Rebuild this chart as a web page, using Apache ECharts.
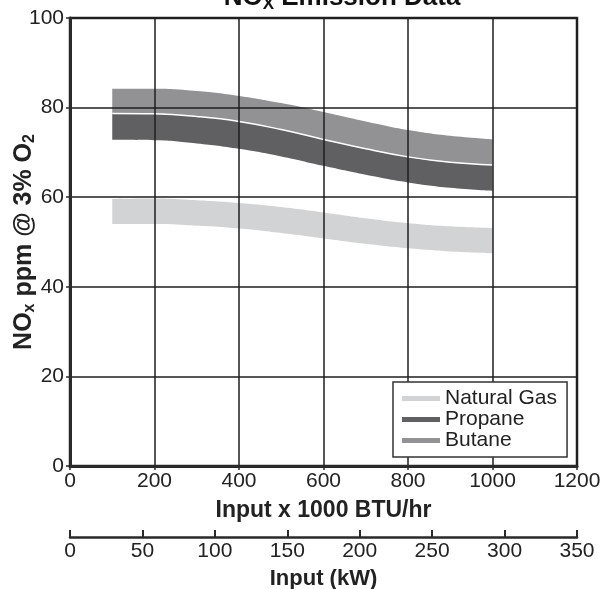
<!DOCTYPE html>
<html>
<head>
<meta charset="utf-8">
<script src="https://cdn.jsdelivr.net/npm/echarts@6/dist/echarts.min.js"></script>
<style>
html,body{margin:0;padding:0;background:#fff;}
#chart{width:602px;height:589px;}
</style>
</head>
<body>
<div id="chart"></div>
<script>
// Input x 1000 BTU/hr
const inputBTU = [100, 200, 300, 400, 500, 600, 700, 800, 900, 1000];
// NOx ppm band edges
const butaneTop    = [84.2, 84.2, 83.7, 82.6, 81.0, 79.0, 76.9, 75.0, 73.7, 72.9];
const butaneBottom = [78.7, 78.6, 78.0, 76.9, 75.1, 72.9, 70.8, 69.0, 67.8, 67.2];
const propaneTop   = [78.7, 78.6, 78.0, 76.9, 75.1, 72.9, 70.8, 69.0, 67.8, 67.2];
const propaneBottom= [72.8, 72.7, 72.0, 70.8, 69.1, 67.0, 65.0, 63.3, 62.1, 61.4];
const gasTop       = [59.6, 59.7, 59.3, 58.7, 57.8, 56.6, 55.3, 54.2, 53.5, 53.1];
const gasBottom    = [54.0, 54.0, 53.6, 53.0, 52.0, 50.8, 49.6, 48.6, 47.9, 47.5];
const yTicks = [0, 20, 40, 60, 80, 100];
const btuTicks = [0, 200, 400, 600, 800, 1000, 1200];
const kwTicks = [0, 50, 100, 150, 200, 250, 300, 350];
const legendNames = ['Natural Gas', 'Propane', 'Butane'];

const FONT = 'Liberation Sans, Arial, sans-serif';
const colors = { 'Natural Gas': '#d2d3d4', 'Propane': '#606062', 'Butane': '#929295' };

// rows are [value, input] so that the stacked dimension is the NOx value
function rows(arr) { return inputBTU.map((x, i) => [arr[i], x]); }
function widthRows(top, bottom) { return inputBTU.map((x, i) => [+(top[i] - bottom[i]).toFixed(2), x]); }

const SMOOTH = 0.45;
function band(name, top, bottom, lineColor, lineWidth, z) {
  return [
    {
      name: name + '-base', type: 'line', stack: name, data: rows(bottom),
      encode: { x: 1, y: 0 }, smooth: SMOOTH, symbol: 'none', silent: true, z: z,
      lineStyle: { opacity: 0, width: 0 }
    },
    {
      name: name, type: 'line', stack: name, data: widthRows(top, bottom),
      encode: { x: 1, y: 0 }, smooth: SMOOTH, symbol: 'none', silent: true, z: z,
      itemStyle: { color: colors[name] },
      lineStyle: { color: lineColor || colors[name], width: lineWidth || 0, opacity: lineWidth ? 1 : 0 },
      areaStyle: { color: colors[name], opacity: 1 }
    }
  ];
}

const chart = echarts.init(document.getElementById('chart'), null, { renderer: 'canvas' });
const option = {
  animation: false,
  textStyle: { fontFamily: FONT },
  grid: {
    left: 70, right: 25, top: 18, bottom: 123,
    outerBoundsMode: 'none', containLabel: false,
    show: true, borderColor: '#2a2a2a', borderWidth: 2.5, backgroundColor: 'transparent'
  },
  legend: {
    data: legendNames,
    orient: 'vertical',
    left: 393, top: 382,
    icon: 'rect', itemWidth: 38, itemHeight: 5, itemGap: 0,
    padding: [6, 10, 6, 9],
    borderColor: '#333', borderWidth: 1.5, backgroundColor: '#fff',
    textStyle: { fontSize: 21, color: '#222', fontFamily: FONT },
    selectedMode: false, z: 20
  },
  xAxis: [
    {
      type: 'value', min: btuTicks[0], max: btuTicks[btuTicks.length - 1], interval: 200,
      position: 'bottom', z: 10,
      name: 'Input x 1000 BTU/hr', nameLocation: 'middle', nameGap: 33,
      nameTextStyle: { fontSize: 23, fontWeight: 'bold', color: '#222', fontFamily: FONT },
      axisLine: { show: true, onZero: false, lineStyle: { color: '#2a2a2a', width: 3 } },
      axisTick: { show: true, length: 4, lineStyle: { color: '#2a2a2a', width: 1.5 } },
      axisLabel: { fontSize: 21, color: '#222', margin: 5, fontFamily: FONT, formatter: v => String(v) },
      splitLine: { show: true, lineStyle: { color: '#1e1e1e', width: 1.5 } }
    },
    {
      type: 'value', min: kwTicks[0], max: kwTicks[kwTicks.length - 1], interval: 50,
      position: 'bottom', offset: 71, z: 10,
      name: 'Input (kW)', nameLocation: 'middle', nameGap: 31,
      nameTextStyle: { fontSize: 22, fontWeight: 'bold', color: '#222', fontFamily: FONT },
      axisLine: { show: true, onZero: false, lineStyle: { color: '#2a2a2a', width: 2.5 } },
      axisTick: { show: true, inside: true, length: 7, lineStyle: { color: '#2a2a2a', width: 2 } },
      axisLabel: { fontSize: 21, color: '#222', margin: 4, fontFamily: FONT, formatter: v => String(v) },
      splitLine: { show: false }
    }
  ],
  yAxis: {
    type: 'value', min: yTicks[0], max: yTicks[yTicks.length - 1], interval: 20, z: 10,
    axisLine: { show: true, onZero: false, lineStyle: { color: '#2a2a2a', width: 3 } },
    axisTick: { show: true, length: 4, lineStyle: { color: '#2a2a2a', width: 1.5 } },
    axisLabel: { fontSize: 21, color: '#222', margin: 6, fontFamily: FONT },
    splitLine: { show: true, lineStyle: { color: '#1e1e1e', width: 1.5 } }
  },
  series: [].concat(
    band('Butane', butaneTop, butaneBottom, null, 0, 2),
    band('Propane', propaneTop, propaneBottom, '#ffffff', 1.5, 3),
    band('Natural Gas', gasTop, gasBottom, null, 0, 4)
  ),
  graphic: [
    {
      type: 'text', x: 342, y: 13, z: 30,
      style: {
        text: 'NO{sub|X} Emission Data',
        font: 'bold 26px ' + FONT, fill: '#111',
        align: 'center', verticalAlign: 'bottom',
        rich: { sub: { fontSize: 17, fontWeight: 'bold', fontFamily: FONT, fill: '#111', padding: [14, 0, 0, 0] } }
      }
    },
    {
      type: 'text', x: 24, y: 242, rotation: Math.PI / 2, z: 30,
      style: {
        text: 'NO{sub|x} ppm @ 3% O{sub|2}',
        font: 'bold 25px ' + FONT, fill: '#222',
        align: 'center', verticalAlign: 'middle',
        rich: { sub: { fontSize: 16, fontWeight: 'bold', fontFamily: FONT, fill: '#222', padding: [12, 0, 0, 0] } }
      }
    }
  ]
};
chart.setOption(option);
</script>
</body>
</html>
